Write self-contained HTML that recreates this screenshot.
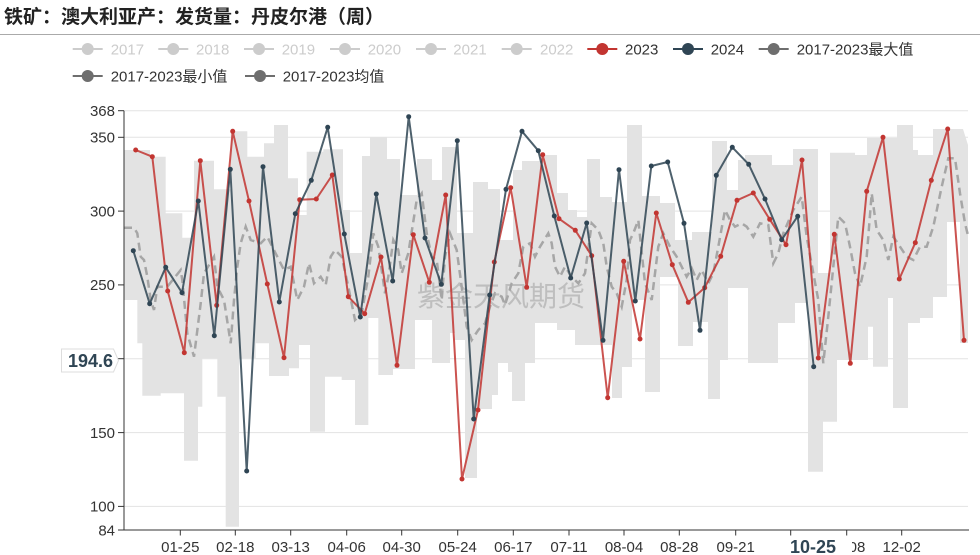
<!DOCTYPE html>
<html><head><meta charset="utf-8"><style>
html,body{margin:0;padding:0;background:#fff;}
svg{display:block;font-family:"Liberation Sans","Noto Sans CJK SC",sans-serif;}
</style></head><body>
<svg width="980" height="555" viewBox="0 0 980 555" xmlns="http://www.w3.org/2000/svg">
<rect width="980" height="555" fill="#fff"/>
<text x="4" y="23" font-size="19" font-weight="bold" fill="#222">铁矿：澳大利亚产：发货量：丹皮尔港（周）</text>
<line x1="0" y1="34.5" x2="980" y2="34.5" stroke="#aaa" stroke-width="1"/>

<!-- legend -->
<g font-size="15">
<g fill="#ccc" stroke="#ccc">
<line x1="72.7" y1="49" x2="102.7" y2="49" stroke-width="2"/><circle cx="87.7" cy="49" r="6" stroke="none"/>
<line x1="158.3" y1="49" x2="188.3" y2="49" stroke-width="2"/><circle cx="173.3" cy="49" r="6" stroke="none"/>
<line x1="244" y1="49" x2="274" y2="49" stroke-width="2"/><circle cx="259" cy="49" r="6" stroke="none"/>
<line x1="330" y1="49" x2="360" y2="49" stroke-width="2"/><circle cx="345" cy="49" r="6" stroke="none"/>
<line x1="416" y1="49" x2="446" y2="49" stroke-width="2"/><circle cx="431" cy="49" r="6" stroke="none"/>
<line x1="501.7" y1="49" x2="531.7" y2="49" stroke-width="2"/><circle cx="516.7" cy="49" r="6" stroke="none"/>
</g>
<g fill="#ccc">
<text x="110.7" y="54.5">2017</text>
<text x="196" y="54.5">2018</text>
<text x="281.7" y="54.5">2019</text>
<text x="367.7" y="54.5">2020</text>
<text x="453.3" y="54.5">2021</text>
<text x="540" y="54.5">2022</text>
</g>
<line x1="587.3" y1="49" x2="617.3" y2="49" stroke="#c23531" stroke-width="2"/><circle cx="602.3" cy="49" r="6" fill="#c23531"/>
<text x="625" y="54.5" fill="#333">2023</text>
<line x1="673" y1="49" x2="703" y2="49" stroke="#2f4554" stroke-width="2"/><circle cx="688" cy="49" r="6" fill="#2f4554"/>
<text x="710.7" y="54.5" fill="#333">2024</text>
<line x1="758.7" y1="49" x2="788.7" y2="49" stroke="#6e6e6e" stroke-width="2"/><circle cx="773.7" cy="49" r="6" fill="#6e6e6e"/>
<text x="796.7" y="54.5" fill="#333">2017-2023最大值</text>
<line x1="72.7" y1="76" x2="102.7" y2="76" stroke="#6e6e6e" stroke-width="2"/><circle cx="87.7" cy="76" r="6" fill="#6e6e6e"/>
<text x="110.7" y="81.5" fill="#333">2017-2023最小值</text>
<line x1="245" y1="76" x2="275" y2="76" stroke="#6e6e6e" stroke-width="2"/><circle cx="260" cy="76" r="6" fill="#6e6e6e"/>
<text x="282.7" y="81.5" fill="#333">2017-2023均值</text>
</g>

<!-- grid lines -->
<g stroke="#e3e3e3" stroke-width="1">
<line x1="124" y1="110.7" x2="968" y2="110.7"/>
<line x1="124" y1="137.3" x2="968" y2="137.3"/>
<line x1="124" y1="211.1" x2="968" y2="211.1"/>
<line x1="124" y1="284.9" x2="968" y2="284.9"/>
<line x1="124" y1="358.7" x2="968" y2="358.7"/>
<line x1="124" y1="432.6" x2="968" y2="432.6"/>
<line x1="124" y1="506.4" x2="968" y2="506.4"/>
</g>

<!-- band -->
<path fill="#e3e3e3" d="M124,150 H150 V156.7 H165.7 V213.3 H182.3 V237.7 H194 V160.7 H214 V189.3 H230.7 V131.3 H247.3 V156.7 H264 V143.3 H274 V125 H288 V178.3 H298 V215 H306.7 V151.7 H323.3 V149.3 H343 V210 H350 V253 H362 V156 H370 V137 H387 V159 H400 V195 H417 V159 H432 V180 H442 V147 H457 V233 H473 V182 H488 V189 H500 V240 H513 V170 H522 V161 H545 V155 H557 V193 H568 V210 H577 V217 H587 V159 H600 V197 H612 V202 H627 V125 H642 V196 H660 V203 H675 V240 H692 V232 H712 V141 H727 V190 H738 V160 H745 V155 H772 V165 H793 V149 H818 V273 H830 V152.7 H855 V155 H867 V138 H897 V125 H913 V150 H918 V155 H933 V129 H963 L968,145 V343 H960 V222 H947 V297 H933 V318 H920 V323 H908 V408 H893 V298 H888 V366.7 H873 V326.7 H868 V360 H837 V421.7 H823 V471.7 H808 V303 H795 V323 H778 V363 H748 V288 H728 V360 H720 V399 H708 V322 H693 V346 H678 V277 H660 V392 H645 V300 H632 V367 H622 V398 H612 V345 H575 V330 H557 V323 H535 V363 H525 V401 H512 V372 H508 V363 H498 V395 H492 V409 H477 V478 H465 V340 H455 V333 H450 V363 H432 V320 H415 V369 H393 V375 H378.3 V318 H368.3 V425 H355 V380 H341.7 V376.7 H325 V431.7 H310 V345 H299 V368.3 H289 V376 H269 V343.3 H255.7 V358.3 H239 V526.7 H225.7 V396.7 H217.3 V358.3 H202.3 V406.7 H198 V460.7 H184 V393.3 H160.7 V395.7 H142.3 V343.3 H137.3 V300 H124 Z"/>

<!-- watermark -->
<text x="417" y="306" font-size="28" fill="#999" fill-opacity="0.5" font-family="'Noto Sans CJK SC',sans-serif">紫金天风期货</text>

<!-- mean dashed -->
<polyline fill="none" stroke="#a6a6a6" stroke-width="2.5" stroke-dasharray="8,5" points="124,227.7 134,227.7 137.3,233.3 140.7,256.7 144,260 147.3,276.7 150.7,300 154,310 157.3,286.7 167.3,286.7 180.7,270 182.3,280 187.3,333.3 194,356.7 200.7,303.3 204,273.3 214,256.7 217.3,286.7 224,300 230.7,343.3 234,300 237.3,266.7 240.7,243.3 245.7,226.7 250.7,240 260.7,243.3 267.3,236.7 272.3,246.7 277.3,256.7 284,270 290.7,266.7 297.3,300 304,286.7 309,263.3 314,283.3 320.7,276.7 325.7,285 330.7,256.7 335,250 341.7,256.7 348.3,286.7 355,320 361.7,313.3 368.3,276.7 373.3,233.3 378.3,246.7 385,293.3 388.3,276.7 393.3,240 398.3,250 401.7,273.3 408.3,253.3 416.7,200 421.7,193.3 426.7,233.3 431.7,256.7 436.7,260 441.7,300 445,256.7 450,233.3 456.7,250 461.7,286.7 466.7,326.7 471.7,340 478.3,330 485,323.3 490,306.7 495,293.3 501.7,296.7 505,305 511.7,283.3 518.3,273.3 523.3,246.7 530,243.3 535,256.7 540,246.7 548.3,233.3 551.7,243.3 555,266.7 560,276.7 565,266.7 571.7,276.7 578.3,283.3 585,273.3 591.7,223.3 598.3,230 603.3,243.3 606.7,266.7 611.7,286.7 616.7,293.3 621.7,306.7 626.7,280 630,240 633.3,233.3 638.3,220 645,283.3 651.7,300 658.3,246.7 663.3,233.3 670,246.7 676.7,256.7 681.7,266.7 686.7,276.7 691.7,268.3 696.7,280 701.7,270 708.3,283.3 713.3,273.3 718.3,246.7 725,210 730,220 735,226.7 741.7,223.3 746.7,226.7 753.3,236.7 760,223.3 768.3,225 773.3,263.3 778.3,253.3 783.3,233.3 793.3,210 801.7,196.7 806.7,236.7 813.3,273.3 818.3,300 823.3,363.3 828.3,316.7 833.3,266.7 838.3,216.7 845,223.3 850,246.7 855,273.3 860,286.7 866.7,256.7 871.7,193.3 876.7,230 883.3,240 888.3,260 893.3,236.7 900,246.7 906.7,256.7 913.3,260 920,246.7 926.7,246.7 933.3,226.7 941.7,186.7 948.3,158.3 955,158.3 960,193.3 965,223.3 968.3,236.7"/>

<!-- 2023 -->
<g fill="#c23531">
<polyline fill="none" stroke="#c23531" stroke-opacity="0.85" stroke-width="2" stroke-linejoin="round" points="135.7,150 152.3,156.7 167.7,291 184.3,352.7 200.3,160.7 216.7,305.3 232.7,131.3 249,201 267.3,284 284,357.7 299.7,199.7 316.3,199 332.3,175 348.3,296.7 364.7,313.7 381,257 397,365.3 413.3,234.7 429.3,282.3 445.7,195 462,479 478,410 494.3,262 510.7,187.7 526.7,287.3 542.7,154.7 559,218.7 575.3,230.3 591.7,255.7 607.7,397.7 623.7,261.3 640,339 656.3,213 672.3,264.7 688.3,302.3 704.7,287.7 720.7,256.3 737,200.3 753.3,193 769.7,219.3 786,244.7 802,160 818.3,358 834.3,234.3 850.3,363.3 866.7,191.3 883,137.3 899.3,279 915.3,242.7 931.3,180.3 947.7,129 964,340.3"/>
<circle cx="135.7" cy="150" r="2.5"/><circle cx="152.3" cy="156.7" r="2.5"/><circle cx="167.7" cy="291" r="2.5"/><circle cx="184.3" cy="352.7" r="2.5"/><circle cx="200.3" cy="160.7" r="2.5"/><circle cx="216.7" cy="305.3" r="2.5"/><circle cx="232.7" cy="131.3" r="2.5"/><circle cx="249" cy="201" r="2.5"/><circle cx="267.3" cy="284" r="2.5"/><circle cx="284" cy="357.7" r="2.5"/><circle cx="299.7" cy="199.7" r="2.5"/><circle cx="316.3" cy="199" r="2.5"/><circle cx="332.3" cy="175" r="2.5"/><circle cx="348.3" cy="296.7" r="2.5"/><circle cx="364.7" cy="313.7" r="2.5"/><circle cx="381" cy="257" r="2.5"/><circle cx="397" cy="365.3" r="2.5"/><circle cx="413.3" cy="234.7" r="2.5"/><circle cx="429.3" cy="282.3" r="2.5"/><circle cx="445.7" cy="195" r="2.5"/><circle cx="462" cy="479" r="2.5"/><circle cx="478" cy="410" r="2.5"/><circle cx="494.3" cy="262" r="2.5"/><circle cx="510.7" cy="187.7" r="2.5"/><circle cx="526.7" cy="287.3" r="2.5"/><circle cx="542.7" cy="154.7" r="2.5"/><circle cx="559" cy="218.7" r="2.5"/><circle cx="575.3" cy="230.3" r="2.5"/><circle cx="591.7" cy="255.7" r="2.5"/><circle cx="607.7" cy="397.7" r="2.5"/><circle cx="623.7" cy="261.3" r="2.5"/><circle cx="640" cy="339" r="2.5"/><circle cx="656.3" cy="213" r="2.5"/><circle cx="672.3" cy="264.7" r="2.5"/><circle cx="688.3" cy="302.3" r="2.5"/><circle cx="704.7" cy="287.7" r="2.5"/><circle cx="720.7" cy="256.3" r="2.5"/><circle cx="737" cy="200.3" r="2.5"/><circle cx="753.3" cy="193" r="2.5"/><circle cx="769.7" cy="219.3" r="2.5"/><circle cx="786" cy="244.7" r="2.5"/><circle cx="802" cy="160" r="2.5"/><circle cx="818.3" cy="358" r="2.5"/><circle cx="834.3" cy="234.3" r="2.5"/><circle cx="850.3" cy="363.3" r="2.5"/><circle cx="866.7" cy="191.3" r="2.5"/><circle cx="883" cy="137.3" r="2.5"/><circle cx="899.3" cy="279" r="2.5"/><circle cx="915.3" cy="242.7" r="2.5"/><circle cx="931.3" cy="180.3" r="2.5"/><circle cx="947.7" cy="129" r="2.5"/><circle cx="964" cy="340.3" r="2.5"/>
</g>

<!-- 2024 -->
<g fill="#2f4554">
<polyline fill="none" stroke="#2f4554" stroke-opacity="0.85" stroke-width="2" stroke-linejoin="round" points="133.3,250.7 149.7,303.7 165.7,267.3 182,292.7 198.3,201 214.3,335.7 230.3,169.3 246.7,471 263,166.7 279.3,302 295.3,213.7 311.3,180.3 327.7,127.3 344.3,234 360.3,317 376.3,194 392.7,281 408.7,116.7 425,238 441.3,284.3 457.3,140.7 473.7,419 489.7,295 506,189.3 522,131.3 538.3,150.7 554.3,216 570.7,278 586.7,223 603,340.3 619,169.7 635.3,301 651.3,166 667.7,162 684,223.3 700,330.3 716.3,175.3 732.3,147.3 748.7,164.3 765,199 781.7,239.7 797.7,216.3 813.7,366.7"/>
<circle cx="133.3" cy="250.7" r="2.5"/><circle cx="149.7" cy="303.7" r="2.5"/><circle cx="165.7" cy="267.3" r="2.5"/><circle cx="182" cy="292.7" r="2.5"/><circle cx="198.3" cy="201" r="2.5"/><circle cx="214.3" cy="335.7" r="2.5"/><circle cx="230.3" cy="169.3" r="2.5"/><circle cx="246.7" cy="471" r="2.5"/><circle cx="263" cy="166.7" r="2.5"/><circle cx="279.3" cy="302" r="2.5"/><circle cx="295.3" cy="213.7" r="2.5"/><circle cx="311.3" cy="180.3" r="2.5"/><circle cx="327.7" cy="127.3" r="2.5"/><circle cx="344.3" cy="234" r="2.5"/><circle cx="360.3" cy="317" r="2.5"/><circle cx="376.3" cy="194" r="2.5"/><circle cx="392.7" cy="281" r="2.5"/><circle cx="408.7" cy="116.7" r="2.5"/><circle cx="425" cy="238" r="2.5"/><circle cx="441.3" cy="284.3" r="2.5"/><circle cx="457.3" cy="140.7" r="2.5"/><circle cx="473.7" cy="419" r="2.5"/><circle cx="489.7" cy="295" r="2.5"/><circle cx="506" cy="189.3" r="2.5"/><circle cx="522" cy="131.3" r="2.5"/><circle cx="538.3" cy="150.7" r="2.5"/><circle cx="554.3" cy="216" r="2.5"/><circle cx="570.7" cy="278" r="2.5"/><circle cx="586.7" cy="223" r="2.5"/><circle cx="603" cy="340.3" r="2.5"/><circle cx="619" cy="169.7" r="2.5"/><circle cx="635.3" cy="301" r="2.5"/><circle cx="651.3" cy="166" r="2.5"/><circle cx="667.7" cy="162" r="2.5"/><circle cx="684" cy="223.3" r="2.5"/><circle cx="700" cy="330.3" r="2.5"/><circle cx="716.3" cy="175.3" r="2.5"/><circle cx="732.3" cy="147.3" r="2.5"/><circle cx="748.7" cy="164.3" r="2.5"/><circle cx="765" cy="199" r="2.5"/><circle cx="781.7" cy="239.7" r="2.5"/><circle cx="797.7" cy="216.3" r="2.5"/><circle cx="813.7" cy="366.7" r="2.5"/>
</g>

<!-- axes -->
<line x1="124" y1="110.7" x2="124" y2="530.5" stroke="#333" stroke-width="1"/>
<line x1="123.5" y1="530" x2="969" y2="530" stroke="#333" stroke-width="1"/>
<g stroke="#333" stroke-width="1">
<line x1="118" y1="110.7" x2="124" y2="110.7"/>
<line x1="118" y1="137.3" x2="124" y2="137.3"/>
<line x1="118" y1="211.1" x2="124" y2="211.1"/>
<line x1="118" y1="284.9" x2="124" y2="284.9"/>
<line x1="118" y1="358.7" x2="124" y2="358.7"/>
<line x1="118" y1="432.6" x2="124" y2="432.6"/>
<line x1="118" y1="506.4" x2="124" y2="506.4"/>
<line x1="118" y1="530" x2="124" y2="530"/>
<line x1="180.3" y1="530" x2="180.3" y2="535.5"/>
<line x1="235.3" y1="530" x2="235.3" y2="535.5"/>
<line x1="290.7" y1="530" x2="290.7" y2="535.5"/>
<line x1="346.7" y1="530" x2="346.7" y2="535.5"/>
<line x1="401.7" y1="530" x2="401.7" y2="535.5"/>
<line x1="457.7" y1="530" x2="457.7" y2="535.5"/>
<line x1="513.3" y1="530" x2="513.3" y2="535.5"/>
<line x1="569" y1="530" x2="569" y2="535.5"/>
<line x1="624" y1="530" x2="624" y2="535.5"/>
<line x1="679.3" y1="530" x2="679.3" y2="535.5"/>
<line x1="735.7" y1="530" x2="735.7" y2="535.5"/>
<line x1="790.7" y1="530" x2="790.7" y2="535.5"/>
<line x1="846.7" y1="530" x2="846.7" y2="535.5"/>
<line x1="901.7" y1="530" x2="901.7" y2="535.5"/>
</g>
<g font-size="15" fill="#333" text-anchor="end">
<text x="115" y="116">368</text>
<text x="115" y="142.6">350</text>
<text x="115" y="216.4">300</text>
<text x="115" y="290.2">250</text>
<text x="115" y="437.9">150</text>
<text x="115" y="511.7">100</text>
<text x="115" y="535.3">84</text>
</g>
<g font-size="15" fill="#333" text-anchor="middle">
<text x="180.3" y="552">01-25</text>
<text x="235.3" y="552">02-18</text>
<text x="290.7" y="552">03-13</text>
<text x="346.7" y="552">04-06</text>
<text x="401.7" y="552">04-30</text>
<text x="457.7" y="552">05-24</text>
<text x="513.3" y="552">06-17</text>
<text x="569" y="552">07-11</text>
<text x="624" y="552">08-04</text>
<text x="679.3" y="552">08-28</text>
<text x="735.7" y="552">09-21</text>
<text x="790.7" y="552">10-15</text>
<text x="846.7" y="552">11-08</text>
<text x="901.7" y="552">12-02</text>
</g>

<!-- pointer labels -->
<rect x="772" y="535.5" width="80" height="19.5" fill="#fff"/>
<text x="813" y="553" font-size="18" font-weight="bold" fill="#2f4554" text-anchor="middle">10-25</text>
<polygon points="61.5,349 113.5,349 118.5,360.5 113.5,372 61.5,372" fill="#fff" stroke="#ddd" stroke-width="1"/>
<text x="113" y="367" font-size="18" font-weight="bold" fill="#2f4554" text-anchor="end">194.6</text>
</svg>
</body></html>
